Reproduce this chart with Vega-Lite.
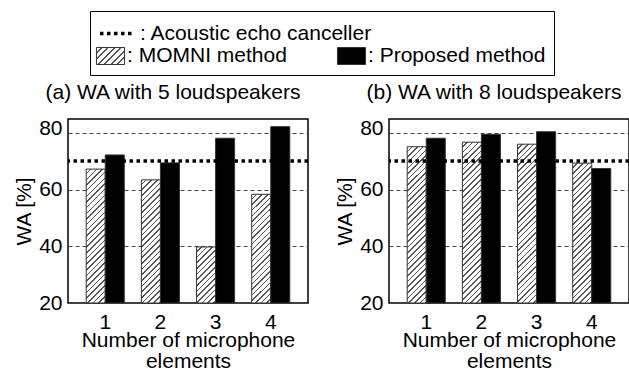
{
  "$schema": "https://vega.github.io/schema/vega-lite/v6.json",
  "background": "white",
  "padding": {"left": 12, "top": 10, "right": 1, "bottom": 3},
  "data": {"values": [
    {"panel": "a", "mic": "1", "method": "MOMNI method", "wa": 67.3},
    {"panel": "a", "mic": "1", "method": "Proposed method", "wa": 72.3},
    {"panel": "a", "mic": "2", "method": "MOMNI method", "wa": 63.5},
    {"panel": "a", "mic": "2", "method": "Proposed method", "wa": 69.5},
    {"panel": "a", "mic": "3", "method": "MOMNI method", "wa": 39.8},
    {"panel": "a", "mic": "3", "method": "Proposed method", "wa": 78.2},
    {"panel": "a", "mic": "4", "method": "MOMNI method", "wa": 58.4},
    {"panel": "a", "mic": "4", "method": "Proposed method", "wa": 82.3},
    {"panel": "b", "mic": "1", "method": "MOMNI method", "wa": 75.2},
    {"panel": "b", "mic": "1", "method": "Proposed method", "wa": 78.2},
    {"panel": "b", "mic": "2", "method": "MOMNI method", "wa": 76.8},
    {"panel": "b", "mic": "2", "method": "Proposed method", "wa": 79.6},
    {"panel": "b", "mic": "3", "method": "MOMNI method", "wa": 76.1},
    {"panel": "b", "mic": "3", "method": "Proposed method", "wa": 80.5},
    {"panel": "b", "mic": "4", "method": "MOMNI method", "wa": 69.4},
    {"panel": "b", "mic": "4", "method": "Proposed method", "wa": 67.5},
    {"panel": "a", "method": "Acoustic echo canceller", "wa": 70.2},
    {"panel": "b", "method": "Acoustic echo canceller", "wa": 70.2}
  ]},
  "config": {
    "font": "Liberation Sans",
    "view": {"stroke": "black", "strokeWidth": 1.5},
    "axis": {"labelFont": "Liberation Sans", "labelFontSize": 21, "labelColor": "black", "titleFont": "Liberation Sans", "titleFontSize": 21, "titleFontWeight": "normal", "titleColor": "black", "ticks": false, "domain": false},
    "axisX": {"labelAngle": 0, "labelPadding": 8, "titlePadding": -3, "grid": false, "titleLineHeight": 21},
    "axisY": {"grid": true, "gridColor": "#444", "gridDash": [4, 3], "gridWidth": 1, "labelPadding": 6, "titlePadding": 4},
    "legend": {"labelFont": "Liberation Sans", "labelFontSize": 21, "labelColor": "black", "labelLimit": 400, "titleFont": "Liberation Sans", "titleFontSize": 21, "titleFontWeight": "normal", "titleColor": "black", "titleLimit": 600},
    "title": {"font": "Liberation Sans", "fontSize": 21, "fontWeight": "normal", "color": "black", "offset": 14, "anchor": "middle"}
  },
  "spacing": 22,
  "resolve": {"scale": {"fill": "shared", "strokeDash": "shared"}, "legend": {"fill": "shared", "strokeDash": "shared"}},
  "hconcat": [
    {
      "title": {"text": "(a) WA with 5 loudspeakers", "dx": -15},
      "width": 240, "height": 184,
      "transform": [{"filter": "datum.panel === 'a'"}],
      "layer": [
        {
          "transform": [{"filter": "datum.method !== 'Acoustic echo canceller'"}],
          "mark": {"type": "bar", "stroke": "#333", "strokeWidth": 1},
          "encoding": {
            "x": {"field": "mic", "type": "nominal", "scale": {"paddingInner": 0.31, "paddingOuter": 0.33}, "axis": {"title": ["Number of microphone", "elements"]}},
            "xOffset": {"field": "method", "type": "nominal", "scale": {"domain": ["MOMNI method", "Proposed method"], "paddingInner": 0, "paddingOuter": 0}},
            "y": {"field": "wa", "type": "quantitative", "scale": {"domain": [20, 85], "zero": false, "nice": false}, "axis": {"title": "WA [%]", "values": [20, 40, 60, 80], "labelOffset": {"condition": {"test": "datum.value === 80", "value": -5}, "value": 0}}},
            "y2": {"datum": 20},
            "fill": {
              "condition": {"test": "datum.method === 'MOMNI method'", "value": {"expr": "{gradient: 'linear', x1: 0, y1: 0, x2: 19.03*203.8/(362.1+pow((datum.wa-20)*2.8308,2)), y2: (datum.wa-20)*2.8308*203.8/(362.1+pow((datum.wa-20)*2.8308,2)), stops: [{offset:0,color:'#fff'},{offset:0.02,color:'#fff'},{offset:0.02,color:'#555'},{offset:0.0278,color:'#555'},{offset:0.0278,color:'#fff'},{offset:0.0478,color:'#fff'},{offset:0.0478,color:'#555'},{offset:0.0556,color:'#555'},{offset:0.0556,color:'#fff'},{offset:0.0756,color:'#fff'},{offset:0.0756,color:'#555'},{offset:0.0833,color:'#555'},{offset:0.0833,color:'#fff'},{offset:0.1033,color:'#fff'},{offset:0.1033,color:'#555'},{offset:0.1111,color:'#555'},{offset:0.1111,color:'#fff'},{offset:0.1311,color:'#fff'},{offset:0.1311,color:'#555'},{offset:0.1389,color:'#555'},{offset:0.1389,color:'#fff'},{offset:0.1589,color:'#fff'},{offset:0.1589,color:'#555'},{offset:0.1667,color:'#555'},{offset:0.1667,color:'#fff'},{offset:0.1867,color:'#fff'},{offset:0.1867,color:'#555'},{offset:0.1944,color:'#555'},{offset:0.1944,color:'#fff'},{offset:0.2144,color:'#fff'},{offset:0.2144,color:'#555'},{offset:0.2222,color:'#555'},{offset:0.2222,color:'#fff'},{offset:0.2422,color:'#fff'},{offset:0.2422,color:'#555'},{offset:0.25,color:'#555'},{offset:0.25,color:'#fff'},{offset:0.27,color:'#fff'},{offset:0.27,color:'#555'},{offset:0.2778,color:'#555'},{offset:0.2778,color:'#fff'},{offset:0.2978,color:'#fff'},{offset:0.2978,color:'#555'},{offset:0.3056,color:'#555'},{offset:0.3056,color:'#fff'},{offset:0.3256,color:'#fff'},{offset:0.3256,color:'#555'},{offset:0.3333,color:'#555'},{offset:0.3333,color:'#fff'},{offset:0.3533,color:'#fff'},{offset:0.3533,color:'#555'},{offset:0.3611,color:'#555'},{offset:0.3611,color:'#fff'},{offset:0.3811,color:'#fff'},{offset:0.3811,color:'#555'},{offset:0.3889,color:'#555'},{offset:0.3889,color:'#fff'},{offset:0.4089,color:'#fff'},{offset:0.4089,color:'#555'},{offset:0.4167,color:'#555'},{offset:0.4167,color:'#fff'},{offset:0.4367,color:'#fff'},{offset:0.4367,color:'#555'},{offset:0.4444,color:'#555'},{offset:0.4444,color:'#fff'},{offset:0.4644,color:'#fff'},{offset:0.4644,color:'#555'},{offset:0.4722,color:'#555'},{offset:0.4722,color:'#fff'},{offset:0.4922,color:'#fff'},{offset:0.4922,color:'#555'},{offset:0.5,color:'#555'},{offset:0.5,color:'#fff'},{offset:0.52,color:'#fff'},{offset:0.52,color:'#555'},{offset:0.5278,color:'#555'},{offset:0.5278,color:'#fff'},{offset:0.5478,color:'#fff'},{offset:0.5478,color:'#555'},{offset:0.5556,color:'#555'},{offset:0.5556,color:'#fff'},{offset:0.5756,color:'#fff'},{offset:0.5756,color:'#555'},{offset:0.5833,color:'#555'},{offset:0.5833,color:'#fff'},{offset:0.6033,color:'#fff'},{offset:0.6033,color:'#555'},{offset:0.6111,color:'#555'},{offset:0.6111,color:'#fff'},{offset:0.6311,color:'#fff'},{offset:0.6311,color:'#555'},{offset:0.6389,color:'#555'},{offset:0.6389,color:'#fff'},{offset:0.6589,color:'#fff'},{offset:0.6589,color:'#555'},{offset:0.6667,color:'#555'},{offset:0.6667,color:'#fff'},{offset:0.6867,color:'#fff'},{offset:0.6867,color:'#555'},{offset:0.6944,color:'#555'},{offset:0.6944,color:'#fff'},{offset:0.7144,color:'#fff'},{offset:0.7144,color:'#555'},{offset:0.7222,color:'#555'},{offset:0.7222,color:'#fff'},{offset:0.7422,color:'#fff'},{offset:0.7422,color:'#555'},{offset:0.75,color:'#555'},{offset:0.75,color:'#fff'},{offset:0.77,color:'#fff'},{offset:0.77,color:'#555'},{offset:0.7778,color:'#555'},{offset:0.7778,color:'#fff'},{offset:0.7978,color:'#fff'},{offset:0.7978,color:'#555'},{offset:0.8056,color:'#555'},{offset:0.8056,color:'#fff'},{offset:0.8256,color:'#fff'},{offset:0.8256,color:'#555'},{offset:0.8333,color:'#555'},{offset:0.8333,color:'#fff'},{offset:0.8533,color:'#fff'},{offset:0.8533,color:'#555'},{offset:0.8611,color:'#555'},{offset:0.8611,color:'#fff'},{offset:0.8811,color:'#fff'},{offset:0.8811,color:'#555'},{offset:0.8889,color:'#555'},{offset:0.8889,color:'#fff'},{offset:0.9089,color:'#fff'},{offset:0.9089,color:'#555'},{offset:0.9167,color:'#555'},{offset:0.9167,color:'#fff'},{offset:0.9367,color:'#fff'},{offset:0.9367,color:'#555'},{offset:0.9444,color:'#555'},{offset:0.9444,color:'#fff'},{offset:0.9644,color:'#fff'},{offset:0.9644,color:'#555'},{offset:0.9722,color:'#555'},{offset:0.9722,color:'#fff'},{offset:0.9922,color:'#fff'},{offset:0.9922,color:'#555'},{offset:1,color:'#555'}]}"}},
              "value": "black"
            }
          }
        },
        {
          "transform": [{"filter": "false"}],
          "mark": {"type": "bar", "stroke": "#333", "strokeWidth": 1, "opacity": 1},
          "encoding": {
            "fill": {
              "field": "method", "type": "nominal",
              "scale": {"domain": ["MOMNI method", "Proposed method"], "range": [{"expr": "{gradient: 'linear', x1: 0, y1: 0, x2: 1.174, y2: 0.713, stops: [{offset:0,color:'#fff'},{offset:0.1,color:'#fff'},{offset:0.1,color:'#555'},{offset:0.1429,color:'#555'},{offset:0.1429,color:'#fff'},{offset:0.2429,color:'#fff'},{offset:0.2429,color:'#555'},{offset:0.2857,color:'#555'},{offset:0.2857,color:'#fff'},{offset:0.3857,color:'#fff'},{offset:0.3857,color:'#555'},{offset:0.4286,color:'#555'},{offset:0.4286,color:'#fff'},{offset:0.5286,color:'#fff'},{offset:0.5286,color:'#555'},{offset:0.5714,color:'#555'},{offset:0.5714,color:'#fff'},{offset:0.6714,color:'#fff'},{offset:0.6714,color:'#555'},{offset:0.7143,color:'#555'},{offset:0.7143,color:'#fff'},{offset:0.8143,color:'#fff'},{offset:0.8143,color:'#555'},{offset:0.8571,color:'#555'},{offset:0.8571,color:'#fff'},{offset:0.9571,color:'#fff'},{offset:0.9571,color:'#555'},{offset:1,color:'#555'}]}"}, "black"]},
              "legend": {
                "orient": "none", "legendX": 22, "legendY": -108,
                "title": "\u00a0\u00a0\u00a0\u00a0\u00a0\u00a0\u00a0\u00a0\u00a0\u00a0\u00a0\u00a0\u00a0\u00a0\u00a0\u00a0\u00a0\u00a0\u00a0\u00a0\u00a0\u00a0\u00a0\u00a0\u00a0\u00a0\u00a0\u00a0\u00a0\u00a0\u00a0\u00a0\u00a0\u00a0\u00a0\u00a0\u00a0\u00a0\u00a0\u00a0\u00a0\u00a0\u00a0\u00a0\u00a0\u00a0\u00a0\u00a0\u00a0\u00a0\u00a0\u00a0\u00a0\u00a0\u00a0\u00a0\u00a0\u00a0\u00a0\u00a0\u00a0\u00a0\u00a0\u00a0\u00a0\u00a0\u00a0\u00a0\u00a0\u00a0\u00a0\u00a0\u00a0\u00a0\u00a0\u00a0\u00a0\u00a0\u00a0\u00a0",
                "titlePadding": 3,
                "direction": "horizontal", "columnPadding": 48,
                "strokeColor": "black", "padding": 8,
                "labelOffset": 4,
                "labelExpr": "': ' + datum.label",
                "symbolSize": 576, "symbolType": "M-1.17,-0.71H1.17V0.71H-1.17Z", "symbolStrokeColor": "#333", "symbolStrokeWidth": 1, "symbolOpacity": 1
              }
            }
          }
        },
        {
          "transform": [{"filter": "datum.method === 'Acoustic echo canceller'"}],
          "mark": {"type": "rule", "color": "black", "strokeWidth": 3.5},
          "encoding": {
            "y": {"field": "wa", "type": "quantitative"},
            "strokeDash": {
              "field": "method", "type": "nominal",
              "scale": {"domain": ["Acoustic echo canceller"], "range": [[3.5, 3.5]]},
              "legend": {
                "orient": "none", "legendX": 30, "legendY": -105, "title": null,
                "padding": 0, "labelOffset": 3,
                "labelExpr": "': ' + datum.label",
                "symbolType": "stroke", "symbolSize": 1225, "symbolStrokeWidth": 3.5, "symbolStrokeColor": "black", "symbolOpacity": 1
              }
            }
          }
        }
      ]
    },
    {
      "title": {"text": "(b) WA with 8 loudspeakers", "dx": -15},
      "width": 240, "height": 184,
      "transform": [{"filter": "datum.panel === 'b'"}],
      "layer": [
        {
          "transform": [{"filter": "datum.method !== 'Acoustic echo canceller'"}],
          "mark": {"type": "bar", "stroke": "#333", "strokeWidth": 1},
          "encoding": {
            "x": {"field": "mic", "type": "nominal", "scale": {"paddingInner": 0.31, "paddingOuter": 0.33}, "axis": {"title": ["Number of microphone", "elements"]}},
            "xOffset": {"field": "method", "type": "nominal", "scale": {"domain": ["MOMNI method", "Proposed method"], "paddingInner": 0, "paddingOuter": 0}},
            "y": {"field": "wa", "type": "quantitative", "scale": {"domain": [20, 85], "zero": false, "nice": false}, "axis": {"title": "WA [%]", "values": [20, 40, 60, 80], "labelOffset": {"condition": {"test": "datum.value === 80", "value": -5}, "value": 0}}},
            "y2": {"datum": 20},
            "fill": {
              "condition": {"test": "datum.method === 'MOMNI method'", "value": {"expr": "{gradient: 'linear', x1: 0, y1: 0, x2: 19.03*203.8/(362.1+pow((datum.wa-20)*2.8308,2)), y2: (datum.wa-20)*2.8308*203.8/(362.1+pow((datum.wa-20)*2.8308,2)), stops: [{offset:0,color:'#fff'},{offset:0.02,color:'#fff'},{offset:0.02,color:'#555'},{offset:0.0278,color:'#555'},{offset:0.0278,color:'#fff'},{offset:0.0478,color:'#fff'},{offset:0.0478,color:'#555'},{offset:0.0556,color:'#555'},{offset:0.0556,color:'#fff'},{offset:0.0756,color:'#fff'},{offset:0.0756,color:'#555'},{offset:0.0833,color:'#555'},{offset:0.0833,color:'#fff'},{offset:0.1033,color:'#fff'},{offset:0.1033,color:'#555'},{offset:0.1111,color:'#555'},{offset:0.1111,color:'#fff'},{offset:0.1311,color:'#fff'},{offset:0.1311,color:'#555'},{offset:0.1389,color:'#555'},{offset:0.1389,color:'#fff'},{offset:0.1589,color:'#fff'},{offset:0.1589,color:'#555'},{offset:0.1667,color:'#555'},{offset:0.1667,color:'#fff'},{offset:0.1867,color:'#fff'},{offset:0.1867,color:'#555'},{offset:0.1944,color:'#555'},{offset:0.1944,color:'#fff'},{offset:0.2144,color:'#fff'},{offset:0.2144,color:'#555'},{offset:0.2222,color:'#555'},{offset:0.2222,color:'#fff'},{offset:0.2422,color:'#fff'},{offset:0.2422,color:'#555'},{offset:0.25,color:'#555'},{offset:0.25,color:'#fff'},{offset:0.27,color:'#fff'},{offset:0.27,color:'#555'},{offset:0.2778,color:'#555'},{offset:0.2778,color:'#fff'},{offset:0.2978,color:'#fff'},{offset:0.2978,color:'#555'},{offset:0.3056,color:'#555'},{offset:0.3056,color:'#fff'},{offset:0.3256,color:'#fff'},{offset:0.3256,color:'#555'},{offset:0.3333,color:'#555'},{offset:0.3333,color:'#fff'},{offset:0.3533,color:'#fff'},{offset:0.3533,color:'#555'},{offset:0.3611,color:'#555'},{offset:0.3611,color:'#fff'},{offset:0.3811,color:'#fff'},{offset:0.3811,color:'#555'},{offset:0.3889,color:'#555'},{offset:0.3889,color:'#fff'},{offset:0.4089,color:'#fff'},{offset:0.4089,color:'#555'},{offset:0.4167,color:'#555'},{offset:0.4167,color:'#fff'},{offset:0.4367,color:'#fff'},{offset:0.4367,color:'#555'},{offset:0.4444,color:'#555'},{offset:0.4444,color:'#fff'},{offset:0.4644,color:'#fff'},{offset:0.4644,color:'#555'},{offset:0.4722,color:'#555'},{offset:0.4722,color:'#fff'},{offset:0.4922,color:'#fff'},{offset:0.4922,color:'#555'},{offset:0.5,color:'#555'},{offset:0.5,color:'#fff'},{offset:0.52,color:'#fff'},{offset:0.52,color:'#555'},{offset:0.5278,color:'#555'},{offset:0.5278,color:'#fff'},{offset:0.5478,color:'#fff'},{offset:0.5478,color:'#555'},{offset:0.5556,color:'#555'},{offset:0.5556,color:'#fff'},{offset:0.5756,color:'#fff'},{offset:0.5756,color:'#555'},{offset:0.5833,color:'#555'},{offset:0.5833,color:'#fff'},{offset:0.6033,color:'#fff'},{offset:0.6033,color:'#555'},{offset:0.6111,color:'#555'},{offset:0.6111,color:'#fff'},{offset:0.6311,color:'#fff'},{offset:0.6311,color:'#555'},{offset:0.6389,color:'#555'},{offset:0.6389,color:'#fff'},{offset:0.6589,color:'#fff'},{offset:0.6589,color:'#555'},{offset:0.6667,color:'#555'},{offset:0.6667,color:'#fff'},{offset:0.6867,color:'#fff'},{offset:0.6867,color:'#555'},{offset:0.6944,color:'#555'},{offset:0.6944,color:'#fff'},{offset:0.7144,color:'#fff'},{offset:0.7144,color:'#555'},{offset:0.7222,color:'#555'},{offset:0.7222,color:'#fff'},{offset:0.7422,color:'#fff'},{offset:0.7422,color:'#555'},{offset:0.75,color:'#555'},{offset:0.75,color:'#fff'},{offset:0.77,color:'#fff'},{offset:0.77,color:'#555'},{offset:0.7778,color:'#555'},{offset:0.7778,color:'#fff'},{offset:0.7978,color:'#fff'},{offset:0.7978,color:'#555'},{offset:0.8056,color:'#555'},{offset:0.8056,color:'#fff'},{offset:0.8256,color:'#fff'},{offset:0.8256,color:'#555'},{offset:0.8333,color:'#555'},{offset:0.8333,color:'#fff'},{offset:0.8533,color:'#fff'},{offset:0.8533,color:'#555'},{offset:0.8611,color:'#555'},{offset:0.8611,color:'#fff'},{offset:0.8811,color:'#fff'},{offset:0.8811,color:'#555'},{offset:0.8889,color:'#555'},{offset:0.8889,color:'#fff'},{offset:0.9089,color:'#fff'},{offset:0.9089,color:'#555'},{offset:0.9167,color:'#555'},{offset:0.9167,color:'#fff'},{offset:0.9367,color:'#fff'},{offset:0.9367,color:'#555'},{offset:0.9444,color:'#555'},{offset:0.9444,color:'#fff'},{offset:0.9644,color:'#fff'},{offset:0.9644,color:'#555'},{offset:0.9722,color:'#555'},{offset:0.9722,color:'#fff'},{offset:0.9922,color:'#fff'},{offset:0.9922,color:'#555'},{offset:1,color:'#555'}]}"}},
              "value": "black"
            }
          }
        },
        {
          "transform": [{"filter": "datum.method === 'Acoustic echo canceller'"}],
          "mark": {"type": "rule", "color": "black", "strokeWidth": 3.5, "strokeDash": [3.5, 3.5]},
          "encoding": {"y": {"field": "wa", "type": "quantitative"}}
        }
      ]
    }
  ]
}
